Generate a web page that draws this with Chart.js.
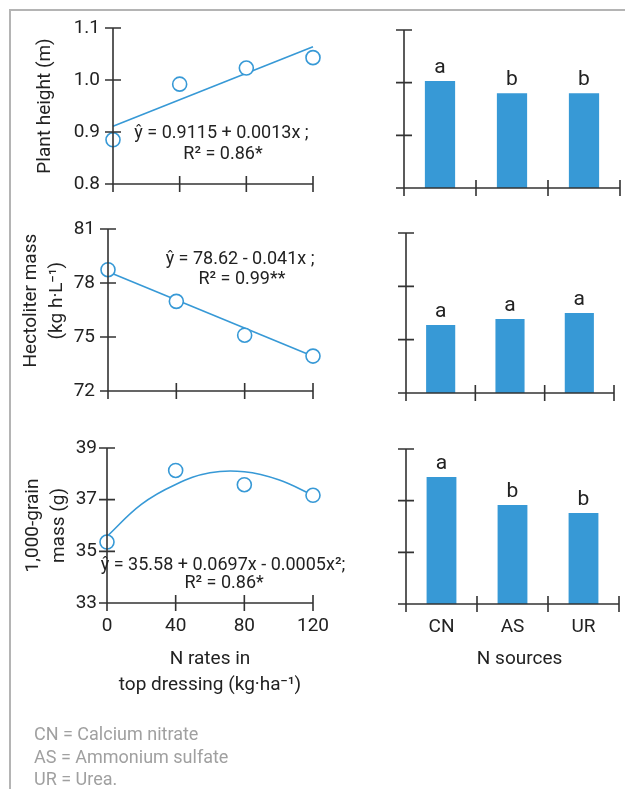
<!DOCTYPE html>
<html>
<head>
<meta charset="utf-8">
<script src="https://cdn.jsdelivr.net/npm/chart.js@4.4.1/dist/chart.umd.min.js"></script>
<style>
  body { margin: 0; background: #fff; width: 625px; height: 789px; overflow: hidden; position: relative; font-family: Roboto, sans-serif; }
  .box { position: absolute; }
  .frame-top { position: absolute; left: 9px; top: 9px; width: 616px; height: 2px; background: #b4b4b4; }
  .frame-left { position: absolute; left: 9px; top: 9px; width: 2px; height: 780px; background: #b4b4b4; }
  .note { position: absolute; left: 34px; top: 723px; color: #a0a0a0; font-size: 18px; line-height: 22.5px; }
</style>
</head>
<body>
<div class="frame-top"></div>
<div class="frame-left"></div>

<div class="box" style="left:0;top:0;width:345px;height:210px"><canvas id="heightRate"></canvas></div>
<div class="box" style="left:0;top:200px;width:345px;height:220px"><canvas id="hectoRate"></canvas></div>
<div class="box" style="left:0;top:420px;width:345px;height:369px"><canvas id="grainRate"></canvas></div>
<div class="box" style="left:345px;top:0;width:280px;height:200px"><canvas id="heightSource"></canvas></div>
<div class="box" style="left:345px;top:200px;width:280px;height:220px"><canvas id="hectoSource"></canvas></div>
<div class="box" style="left:345px;top:420px;width:280px;height:369px"><canvas id="grainSource"></canvas></div>

<div class="note">CN = Calcium nitrate<br>AS = Ammonium sulfate<br>UR = Urea.</div>

<script>
// 施肥量 (kg/ha)
const rates = [0, 40, 80, 120];
// 窒素源
const sources = ['CN', 'AS', 'UR'];

// 草丈 (m)
const heightObs = [0.885, 0.992, 1.023, 1.043];
const heightFitX = [0, 120];
const heightFit = [0.911, 1.064];
const heightTicks = [0.8, 0.9, 1.0, 1.1];
const heightBySource = [1.003, 0.98, 0.98];
const heightLetters = ['a', 'b', 'b'];

// 容積重
const hectoObs = [78.74, 76.98, 75.1, 73.94];
const hectoFitX = [0, 120];
const hectoFit = [78.62, 73.93];
const hectoTicks = [72, 75, 78, 81];
const hectoBySource = [75.83, 76.16, 76.5];
const hectoLetters = ['a', 'a', 'a'];

// 千粒重
const grainObs = [35.36, 38.13, 37.58, 37.17];
const grainFitX = [0, 20, 40, 60, 80, 100, 120];
const grainFit = [35.58, 36.82, 37.59, 38.04, 38.08, 37.77, 37.17];
const grainTicks = [33, 35, 37, 39];
const grainBySource = [37.92, 36.83, 36.52];
const grainLetters = ['a', 'b', 'b'];

Chart.defaults.font.family = 'Roboto, "Open Sans", sans-serif';
Chart.defaults.color = '#222';

const blue = '#3799d6';
const ink = '#333';

// 軸線と交差する目盛り、回帰式、有意差の文字を描く
const axisCross = {
  id: 'axisCross',
  afterDatasetsDraw(chart, args, o) {
    const { ctx, chartArea: a } = chart;
    const x = chart.scales.x;
    const y = chart.scales.y;
    ctx.save();
    ctx.strokeStyle = ink;
    ctx.lineWidth = 1.6;
    ctx.beginPath();
    ctx.moveTo(a.left, a.top);
    ctx.lineTo(a.left, a.bottom);
    ctx.lineTo(a.right, a.bottom);
    y.ticks.forEach(t => {
      const py = y.getPixelForValue(t.value);
      ctx.moveTo(a.left - 8, py);
      ctx.lineTo(a.left + 8, py);
    });
    let xs;
    if (x.type === 'category') {
      const n = x.getLabels().length;
      xs = Array.from({ length: n + 1 }, (_, i) => a.left + i * (a.right - a.left) / n);
    } else {
      xs = x.ticks.map(t => x.getPixelForValue(t.value));
    }
    xs.forEach(px => {
      ctx.moveTo(px, a.bottom - 8);
      ctx.lineTo(px, a.bottom + 8);
    });
    ctx.stroke();

    ctx.fillStyle = '#222';
    ctx.font = '18px Roboto, sans-serif';
    ctx.textAlign = 'center';
    ctx.textBaseline = 'middle';
    (o.notes || []).forEach(n => {
      ctx.fillText(n.text, x.getPixelForValue(n.x), y.getPixelForValue(n.y));
    });

    ctx.font = '21px Roboto, sans-serif';
    ctx.textBaseline = 'alphabetic';
    (o.letters || []).forEach((l, i) => {
      const el = chart.getDatasetMeta(0).data[i];
      ctx.fillText(l, el.x, el.y - 8);
    });
    ctx.restore();
  }
};

function leftChart(id, cfg) {
  const [lo, hi] = [cfg.ticks[0], cfg.ticks[cfg.ticks.length - 1]];
  return new Chart(document.getElementById(id), {
    type: 'line',
    data: {
      datasets: [{
        data: rates.map((v, i) => ({ x: v, y: cfg.obs[i] })),
        showLine: false,
        pointRadius: 7,
        pointBorderWidth: 1.6,
        pointBorderColor: blue,
        pointBackgroundColor: '#fff',
        order: 0,
        clip: false,
      }, {
        data: cfg.fitX.map((v, i) => ({ x: v, y: cfg.fit[i] })),
        borderColor: blue,
        borderWidth: 1.6,
        pointRadius: 0,
        tension: cfg.tension || 0,
        fill: false,
        order: 1,
        clip: false,
      }],
    },
    options: {
      responsive: true,
      maintainAspectRatio: false,
      animation: false,
      layout: { padding: cfg.pad },
      plugins: {
        legend: { display: false },
        tooltip: { enabled: false },
        axisCross: { notes: cfg.notes },
      },
      scales: {
        x: {
          type: 'linear', min: 0, max: 120,
          grid: { display: false, drawTicks: false },
          border: { display: false },
          afterBuildTicks: s => { s.ticks = rates.map(v => ({ value: v })); },
          ticks: { display: !!cfg.xTitle, padding: 12, font: { size: 19 } },
          title: cfg.xTitle
            ? { display: true, text: cfg.xTitle, color: '#222', font: { size: 19, lineHeight: '26px' }, padding: { top: 0, bottom: 0 } }
            : { display: false },
          afterFit: s => { s.height = cfg.xH; },
        },
        y: {
          type: 'linear', min: lo, max: hi,
          grid: { display: false, drawTicks: false },
          border: { display: false },
          afterBuildTicks: s => { s.ticks = cfg.ticks.map(v => ({ value: v })); },
          ticks: { padding: cfg.tickPad, font: { size: 19 }, callback: v => v.toFixed(cfg.dec) },
          title: { display: true, text: cfg.yTitle, color: '#222', font: { size: 19, lineHeight: '26px' }, padding: { top: cfg.titlePad, bottom: 0 } },
          afterFit: s => { s.width = cfg.yW; },
        },
      },
    },
    plugins: [axisCross],
  });
}

function barChart(id, cfg) {
  const [lo, hi] = [cfg.ticks[0], cfg.ticks[cfg.ticks.length - 1]];
  return new Chart(document.getElementById(id), {
    type: 'bar',
    data: {
      labels: sources,
      datasets: [{
        data: cfg.values,
        backgroundColor: blue,
        borderWidth: 0,
        barPercentage: 0.42,
        categoryPercentage: 1,
      }],
    },
    options: {
      responsive: true,
      maintainAspectRatio: false,
      animation: false,
      layout: { padding: cfg.pad },
      plugins: {
        legend: { display: false },
        tooltip: { enabled: false },
        axisCross: { letters: cfg.letters },
      },
      scales: {
        x: {
          grid: { display: false, drawTicks: false },
          border: { display: false },
          ticks: { display: !!cfg.xTitle, padding: 12, font: { size: 19 } },
          title: cfg.xTitle
            ? { display: true, text: cfg.xTitle, color: '#222', font: { size: 19, lineHeight: '26px' }, padding: { top: 0, bottom: 0 } }
            : { display: false },
          afterFit: s => { s.height = cfg.xH; },
        },
        y: {
          min: lo, max: hi,
          grid: { display: false, drawTicks: false },
          border: { display: false },
          afterBuildTicks: s => { s.ticks = cfg.ticks.map(v => ({ value: v })); },
          ticks: { display: false },
          afterFit: s => { s.width = 0; },
        },
      },
    },
    plugins: [axisCross],
  });
}

document.addEventListener('DOMContentLoaded', () => {
  leftChart('heightRate', {
    obs: heightObs, fitX: heightFitX, fit: heightFit, ticks: heightTicks, dec: 1,
    yTitle: 'Plant height (m)', titlePad: 32, tickPad: 13, yW: 113, xH: 0,
    pad: { top: 28, right: 32, bottom: 26, left: 0 },
    notes: [
      { text: 'ŷ = 0.9115 + 0.0013x ;', x: 65.1, y: 0.898 },
      { text: 'R² = 0.86*', x: 66, y: 0.856 },
    ],
  });
  // 縦軸タイトルは参照図では少し上寄りなので先頭に空白を入れて調整
  leftChart('hectoRate', {
    obs: hectoObs, fitX: hectoFitX, fit: hectoFit, ticks: hectoTicks, dec: 0,
    yTitle: ['    Hectoliter mass', '    (kg h·L⁻¹)'], titlePad: 18, tickPad: 13, yW: 108, xH: 0,
    pad: { top: 29, right: 32, bottom: 29, left: 0 },
    notes: [
      { text: 'ŷ = 78.62 - 0.041x ;', x: 77.3, y: 79.28 },
      { text: 'R² = 0.99**', x: 78.4, y: 78.17 },
    ],
  });
  leftChart('grainRate', {
    obs: grainObs, fitX: grainFitX, fit: grainFit, ticks: grainTicks, dec: 0, tension: 0.4,
    yTitle: ['1,000-grain', 'mass (g)'], titlePad: 20, tickPad: 10, yW: 107, xH: 95,
    xTitle: ['N rates in', 'top dressing (kg·ha⁻¹)'],
    pad: { top: 28, right: 32, bottom: 91, left: 0 },
    notes: [
      { text: 'ŷ = 35.58 + 0.0697x - 0.0005x²;', x: 67.6, y: 34.47 },
      { text: 'R² = 0.86*', x: 68.2, y: 33.77 },
    ],
  });

  barChart('heightSource', {
    values: heightBySource, ticks: heightTicks, letters: heightLetters, xH: 0,
    pad: { top: 30, right: 5, bottom: 12, left: 59 },
  });
  barChart('hectoSource', {
    values: hectoBySource, ticks: hectoTicks, letters: hectoLetters, xH: 0,
    pad: { top: 33, right: 11, bottom: 27, left: 61 },
  });
  barChart('grainSource', {
    values: grainBySource, ticks: grainTicks, letters: grainLetters, xH: 68,
    xTitle: '   N sources',
    pad: { top: 29, right: 6, bottom: 117, left: 61 },
  });
});
</script>
</body>
</html>
